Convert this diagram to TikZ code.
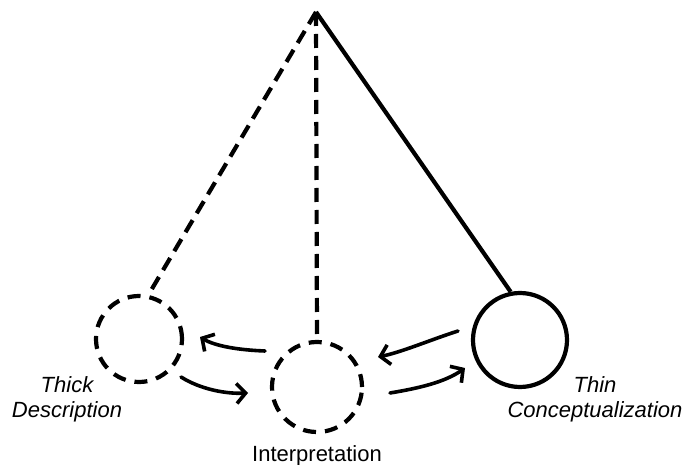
\documentclass[tikz,border=0pt]{standalone}
\usepackage{fontspec}
\setmainfont{Liberation Sans}
\usetikzlibrary{arrows.meta}
\tikzset{
  stringline/.style={line width=4.2pt},
  dashstring/.style={stringline, dash pattern=on 14pt off 8pt},
  bob/.style={circle, draw, line width=4.2pt, inner sep=0pt},
  dashbob/.style={bob, dash pattern=on 13pt off 9pt},
  flow/.style={line width=3.6pt, line cap=round, -{Straight Barb[length=9pt,width=20pt,line width=3.6pt]}},
  lbl/.style={font=\fontsize{22}{25}\selectfont, align=center, inner sep=0pt, anchor=base}
}
\begin{document}
\begin{tikzpicture}[x=1pt,y=-1pt]
\useasboundingbox (0,0) rectangle (683,465);
\coordinate (P) at (316,12);
\node[dashbob, minimum size=86pt] (L) at (139,339) {};
\node[dashbob, minimum size=90pt] (M) at (317,387) {};
\node[bob, minimum size=94pt] (R) at (520,340) {};
\draw[dashstring] (P) -- (L.78);
\draw[dashstring] (P) -- (M.north);
\draw[stringline] (P) -- (R.101);
\coordinate (a1s) at (265,351); \coordinate (a1e) at (200,337);
\coordinate (a2s) at (181,377); \coordinate (a2e) at (248,393);
\coordinate (a3s) at (458,331); \coordinate (a3e) at (378,357);
\coordinate (a4s) at (390,393); \coordinate (a4e) at (465,368);
\draw[flow] (a1s) .. controls (238,350) and (215,346) .. (a1e);
\draw[flow] (a2s) .. controls (200,389) and (225,394) .. (a2e);
\draw[flow] (a3s) .. controls (430,340) and (402,352) .. (a3e);
\draw[flow] (a4s) .. controls (420,388) and (445,382) .. (a4e);
\node[lbl] (tl) at (67,417) {\itshape Thick\\\itshape Description};
\node[lbl] (il) at (317,461) {Interpretation};
\node[lbl] (rl) at (595,417) {\itshape Thin\\\itshape Conceptualization};
\end{tikzpicture}
\end{document}
